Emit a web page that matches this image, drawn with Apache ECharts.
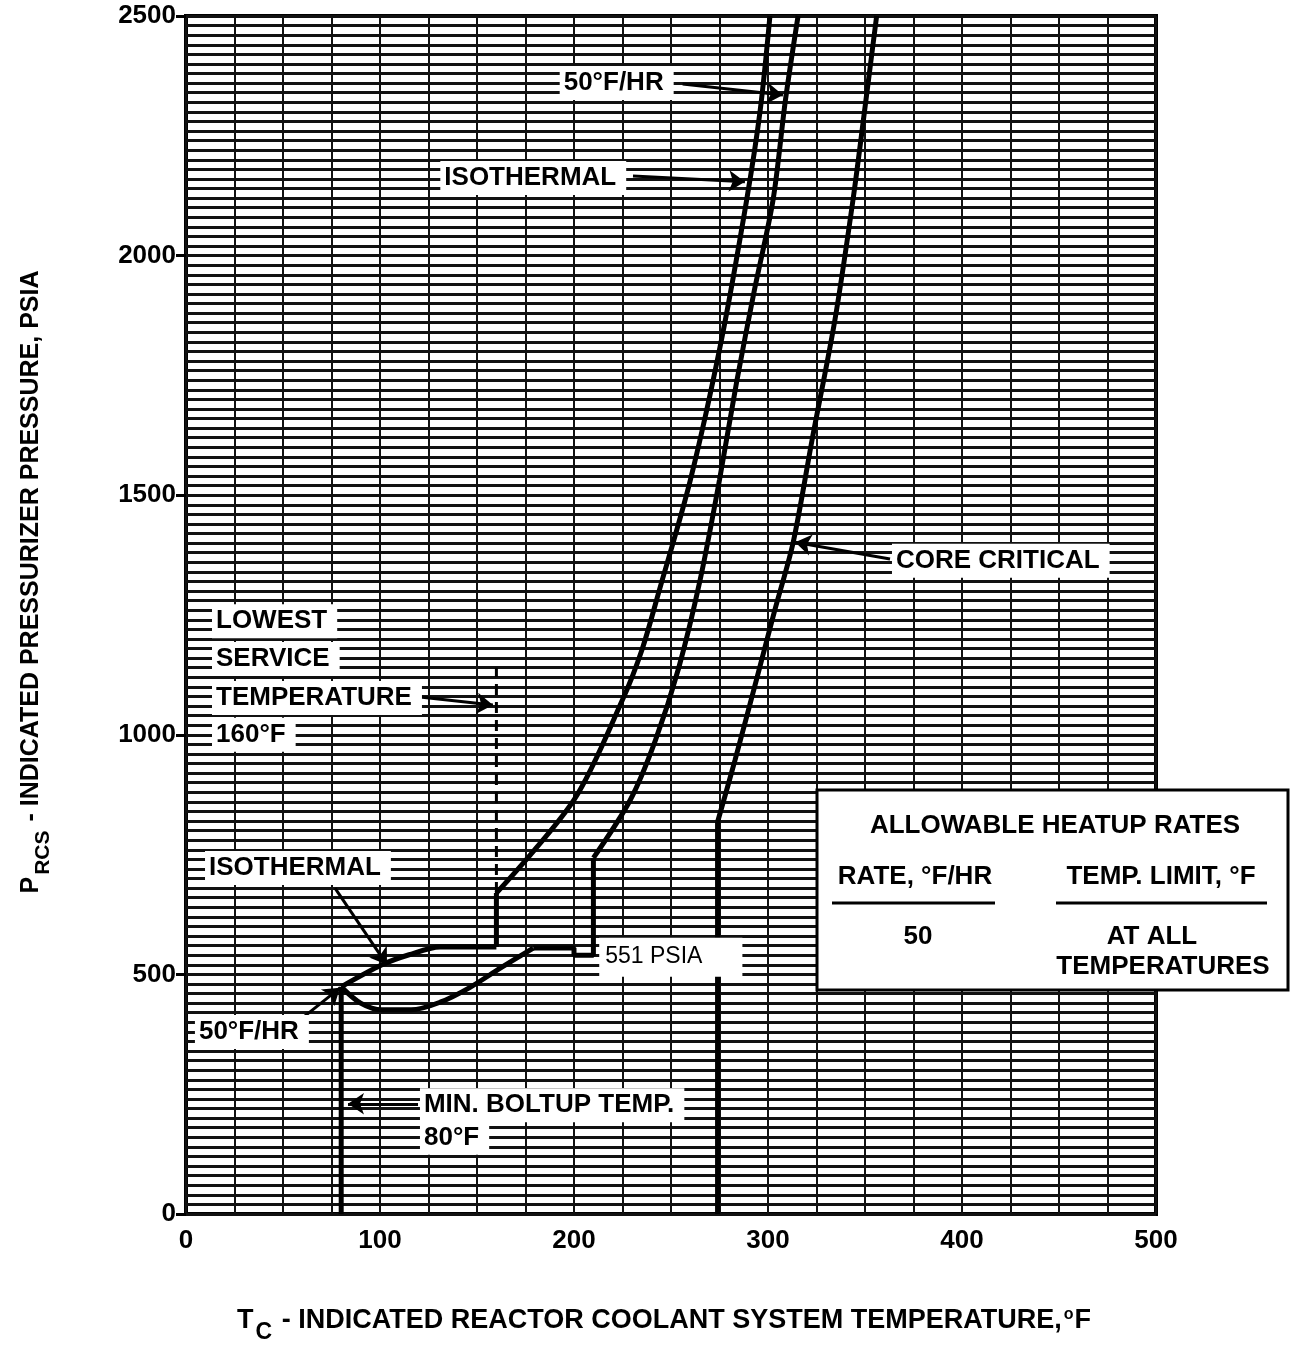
<!DOCTYPE html>
<html>
<head>
<meta charset="utf-8">
<script src="https://cdn.jsdelivr.net/npm/echarts@6/dist/echarts.min.js"></script>
<style>
  html, body { margin: 0; padding: 0; background: #fff; }
  #chart { width: 1293px; height: 1352px; }
</style>
</head>
<body>
<div id="chart"></div>
<script>
// temperature (F) on x, pressure (psia) on y
var tempTicks = [0, 100, 200, 300, 400, 500];
var pressTicks = [0, 500, 1000, 1500, 2000, 2500];

// isothermal limit curve
var isoLow = [[80, 474], [101, 520], [115, 541], [131, 557], [160, 557]];
var isoStep = [[160, 557], [160, 670]];
var isoHigh = [[160, 670], [200, 864], [225, 1073], [235, 1177], [244, 1302], [260, 1532],
  [276, 1824], [289, 2116], [296, 2304], [301, 2500]];

// 50 F/hr heatup curve
var rateLow = [[80, 474], [90, 440], [101, 426], [116, 426], [131, 442], [146, 472], [162, 513], [179, 555]];
var rateStep = [[179, 555], [200, 555], [200, 540], [210, 540], [210, 743]];
var rateHigh = [[210, 743], [229, 864], [242, 989], [254, 1140], [265, 1323], [275, 1532],
  [284, 1740], [293, 1928], [302.6, 2116], [309, 2325], [315.5, 2500]];

// core critical curve
var coreStep = [[274, 0], [274, 818]];
var coreHigh = [[274, 818], [283, 947], [294, 1114], [303.5, 1260], [313, 1402], [322.7, 1615],
  [334.5, 1866], [343.8, 2116], [350.5, 2325], [356, 2500]];

var boltup = [[80, 0], [80, 474]];
var lowestService = [[160, 670], [160, 1140]];

// annotation text (anchored in data space)
var noteTexts = ['50°F/HR', 'ISOTHERMAL', 'CORE CRITICAL', 'LOWEST', 'SERVICE', 'TEMPERATURE', '160°F',
  'ISOTHERMAL', '551 PSIA', '50°F/HR', 'MIN. BOLTUP TEMP.', '80°F'];
var noteAt = [[222, 2360], [179, 2162], [420, 1363], [13.4, 1237], [13.4, 1158], [13.4, 1077], [13.4, 1000],
  [9.8, 722], [213, 536], [4.6, 380], [120.6, 227], [120.6, 159]];
var noteAlign = ['center', 'center', 'center', 'left', 'left', 'left', 'left',
  'left', 'left', 'left', 'left', 'left'];

var arrowLines = [
  [[256, 2358], [307.7, 2335]],
  [[230.4, 2166], [288.1, 2154]],
  [[362.9, 1367], [314, 1402]],
  [[120.6, 1079], [158.2, 1062]],
  [[76.8, 680], [103.6, 520]],
  [[58.8, 405], [79.4, 472]],
  [[119.6, 230], [83.5, 230]]
];

var FONT = '"Liberation Sans", Arial, sans-serif';

function curve(data, smooth, z) {
  return {
    type: 'line', data: data, symbol: 'none', smooth: smooth, z: z || 5,
    lineStyle: { color: '#000', width: 5 }
  };
}

var option = {
  animation: false,
  backgroundColor: '#fff',
  grid: { left: 186, right: 137, top: 16, bottom: 138, show: true, borderColor: '#000', borderWidth: 4 },
  xAxis: {
    type: 'value', min: 0, max: 500, interval: 100,
    axisLine: { show: false }, axisTick: { show: false },
    axisLabel: { margin: 14, fontSize: 26, fontWeight: 'bold', color: '#000', fontFamily: FONT,
      formatter: function (v) { return tempTicks.indexOf(v) >= 0 ? String(v) : ''; } },
    splitLine: { show: true, lineStyle: { color: '#111', width: 2 } },
    minorTick: { show: false, splitNumber: 4 },
    minorSplitLine: { show: true, lineStyle: { color: '#111', width: 2 } }
  },
  yAxis: {
    type: 'value', min: 0, max: 2500, interval: 500,
    axisLine: { show: false },
    axisTick: { show: true, length: 10, lineStyle: { color: '#000', width: 3 } },
    axisLabel: { margin: 10, fontSize: 26, fontWeight: 'bold', color: '#000', fontFamily: FONT,
      formatter: function (v) { return pressTicks.indexOf(v) >= 0 ? String(v) : ''; } },
    splitLine: { show: true, lineStyle: { color: '#111', width: 3 } },
    minorTick: { show: false, splitNumber: 25 },
    minorSplitLine: { show: true, lineStyle: { color: '#111', width: 3 } }
  },
  series: [
    curve(isoLow, 0.3), curve(isoStep, false), curve(isoHigh, 0.3),
    curve(rateLow, 0.3), curve(rateStep, false), curve(rateHigh, 0.3),
    curve(coreStep, false), curve(coreHigh, 0.3),
    curve(boltup, false),
    {
      type: 'line', data: lowestService, symbol: 'none', z: 5,
      lineStyle: { color: '#000', width: 3, type: [11, 7] }
    },
    {
      type: 'lines', coordinateSystem: 'cartesian2d', z: 6,
      symbol: ['none', 'arrow'], symbolSize: [0, 16],
      lineStyle: { color: '#000', width: 3, opacity: 1, curveness: 0 },
      data: arrowLines.map(function (a) { return { coords: a }; })
    }
  ]
};

var chart = echarts.init(document.getElementById('chart'));
chart.setOption(option);

var graphics = [];
for (var i = 0; i < noteTexts.length; i++) {
  var p = chart.convertToPixel({ gridIndex: 0 }, noteAt[i]);
  var regular = noteTexts[i] === '551 PSIA';
  graphics.push({
    type: 'text', x: p[0], y: p[1], z: 20,
    style: {
      text: noteTexts[i], fill: '#000',
      font: (regular ? 'normal ' : 'bold ') + (regular ? 23 : 26) + 'px ' + FONT,
      align: noteAlign[i], verticalAlign: 'middle',
      backgroundColor: '#fff', padding: regular ? [8, 40, 8, 6] : [4, 10, 4, 4]
    }
  });
}

// legend box (sits over the right border)
graphics.push({ type: 'rect', z: 30, shape: { x: 817, y: 790, width: 471, height: 200 },
  style: { fill: '#fff', stroke: '#000', lineWidth: 3 } });
var legendText = [['ALLOWABLE HEATUP RATES', 1055, 826], ['RATE, °F/HR', 915, 877], ['TEMP. LIMIT, °F', 1161, 877],
  ['50', 918, 937], ['AT ALL', 1152, 937], ['TEMPERATURES', 1163, 967]];
legendText.forEach(function (t) {
  graphics.push({ type: 'text', x: t[1], y: t[2], z: 31,
    style: { text: t[0], fill: '#000', font: 'bold 26px ' + FONT, align: 'center', verticalAlign: 'middle' } });
});
graphics.push({ type: 'line', z: 31, shape: { x1: 832, y1: 903, x2: 995, y2: 903 }, style: { stroke: '#000', lineWidth: 3 } });
graphics.push({ type: 'line', z: 31, shape: { x1: 1056, y1: 903, x2: 1267, y2: 903 }, style: { stroke: '#000', lineWidth: 3 } });

// axis titles
function titleRich(size) {
  return {
    t: { fontSize: size, fontWeight: 'bold', fontFamily: FONT, color: '#000', lineHeight: size + 1, verticalAlign: 'top' },
    s: { fontSize: size - 4, fontWeight: 'bold', fontFamily: FONT, color: '#000', lineHeight: size - 4, padding: [14, 2, 0, 2], verticalAlign: 'top' },
    o: { fontSize: 16, fontWeight: 'bold', fontFamily: FONT, color: '#000', lineHeight: 16, padding: [0, 1, 0, 2], verticalAlign: 'top' }
  };
}
graphics.push({ type: 'text', x: 664, y: 1321,
  style: { text: '{t|T}{s|C}{t| - INDICATED REACTOR COOLANT SYSTEM TEMPERATURE,}{o|o}{t|F}',
    rich: titleRich(27), align: 'center', verticalAlign: 'middle' } });
graphics.push({ type: 'text', x: 32, y: 582, rotation: Math.PI / 2,
  style: { text: '{t|P}{s|RCS}{t| - INDICATED PRESSURIZER PRESSURE, PSIA}',
    rich: titleRich(25), align: 'center', verticalAlign: 'middle' } });

chart.setOption({ graphic: graphics });
</script>
</body>
</html>
